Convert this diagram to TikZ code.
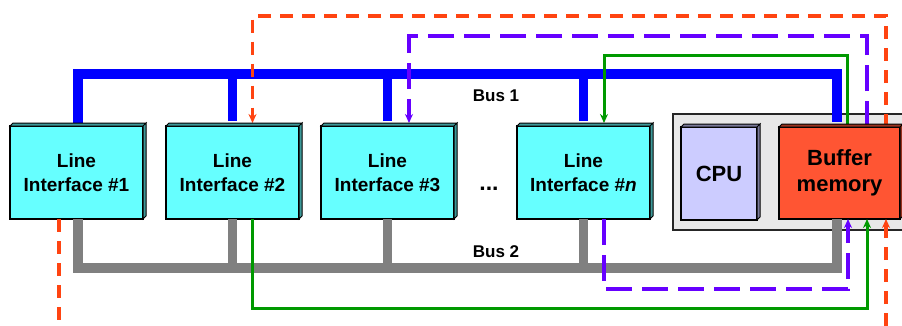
\documentclass[tikz,border=0pt]{standalone}
\usepackage{fontspec}
\setmainfont{Liberation Sans}
\usetikzlibrary{arrows.meta}

\definecolor{ifcyan}{HTML}{66FFFF}
\definecolor{cpufill}{HTML}{CCCCFF}
\definecolor{buffill}{HTML}{FF5533}
\definecolor{boxgray}{HTML}{E8E8E8}
\definecolor{flowred}{HTML}{FF4411}
\definecolor{flowviolet}{HTML}{6600FF}
\definecolor{flowgreen}{HTML}{009900}

\tikzset{
  unit/.style={draw=black, line width=1.5pt, outer sep=0pt, align=center, inner sep=0pt},
  ifbox/.style={unit, fill=ifcyan, minimum width=133, minimum height=93,
    font=\fontsize{19}{24}\selectfont\bfseries},
  busone/.style={line width=9.5pt, blue},
  bustwo/.style={line width=9.5pt, black!50},
  buslabel/.style={font=\fontsize{17}{20}\selectfont\bfseries},
  redflow/.style={line width=3.5pt, flowred, dash pattern=on 13pt off 9pt},
  violetflow/.style={line width=3.5pt, flowviolet, dash pattern=on 26pt off 10pt},
  greenflow/.style={line width=3pt, flowgreen},
  >={Stealth[length=9pt,width=8pt]}
}

\begin{document}
\begin{tikzpicture}[x=1pt,y=-1pt]
    \useasboundingbox (0,0) rectangle (902,325);
    % Grey frame round CPU and buffer
    \draw[draw=black!85, line width=1.5pt, fill=boxgray] (673,114) rectangle (915,230);
    % Line interfaces
    \node[ifbox] (li1) at (76.5,172.5) {Line\\Interface \#1};
    \node[ifbox] (li2) at (232.5,172.5) {Line\\Interface \#2};
    \node[ifbox] (li3) at (387.5,172.5) {Line\\Interface \#3};
    \node[ifbox] (lin) at (583.5,172.5) {Line\\Interface \#\textit{n}};
    \node[font=\fontsize{23}{24}\selectfont\bfseries, anchor=base] (dots) at (489,190) {...};
    % CPU and buffer memory
    \node[unit, fill=cpufill, minimum width=76, minimum height=93,
      font=\fontsize{22}{26}\selectfont\bfseries] (cpu) at (719,173.5) {CPU};
    \node[unit, fill=buffill, minimum width=121, minimum height=92,
      font=\fontsize{22}{26}\selectfont\bfseries] (buf) at (839.5,173) {Buffer\\memory};
    % Bus 1
    \coordinate (b1l) at (78,74);
    \coordinate (b1r) at (837,74);
    \draw[busone, shorten >=5pt] (li1.north -| b1l) -- (b1l) -- (b1r) -- (b1r |- buf.north);
    \foreach \n in {li2,li3,lin}
        \draw[busone, shorten <=5pt] (\n.north) -- (\n.north |- b1l);
    \node[buslabel] (bus1) at (496,96) {Bus 1};
    % Bus 2
    \coordinate (b2l) at (78,268);
    \coordinate (b2r) at (837,268);
    \draw[bustwo] (li1.south -| b2l) -- (b2l) -- (b2r) -- (b2r |- buf.south);
    \foreach \n in {li2,li3,lin}
        \draw[bustwo] (\n.south) -- (\n.south |- b2l);
    \node[buslabel] (bus2) at (496,252) {Bus 2};
    % Red path
    \coordinate (rout) at (59,326);
    \coordinate (rin) at (886,326);
    \coordinate (rtop) at (886,16);
    \draw[redflow] (li1.south -| rout) -- (rout);
    \draw[redflow,->] (rin) -- (rin |- buf.south);
    \draw[redflow,->] (buf.north -| rtop) -- (rtop) -| ([shift={(20,-3)}]li2.north);
    % Violet path
    \coordinate (vbot) at (848,289);
    \coordinate (vtop) at (867,36);
    \draw[violetflow,->] ([xshift=20.5pt]lin.south) |- (vbot) -- (vbot |- buf.south);
    \draw[violetflow,->] (buf.north -| vtop) -- (vtop) -| ([shift={(21.5,-3)}]li3.north);
    % Green path
    \coordinate (gbot) at (867,308);
    \coordinate (gtop) at (847,55);
    \draw[greenflow,->] ([xshift=20pt]li2.south) |- (gbot) -- (gbot |- buf.south);
    \draw[greenflow,->] (buf.north -| gtop) -- (gtop) -| ([shift={(20.5,-3)}]lin.north);
    % 3D edges of the boxes
    \foreach \n/\c in {li1/ifcyan,li2/ifcyan,li3/ifcyan,lin/ifcyan,cpu/cpufill,buf/buffill}
        \filldraw[line width=1pt, fill=\c!60!black]
        (\n.north west) -- ++(3,-3) -- ([shift={(3,-3)}]\n.north east) -- (\n.north east) -- cycle
        (\n.north east) -- ++(3,-3) -- ([shift={(3,-3)}]\n.south east) -- (\n.south east) -- cycle;
\end{tikzpicture}
\end{document}
